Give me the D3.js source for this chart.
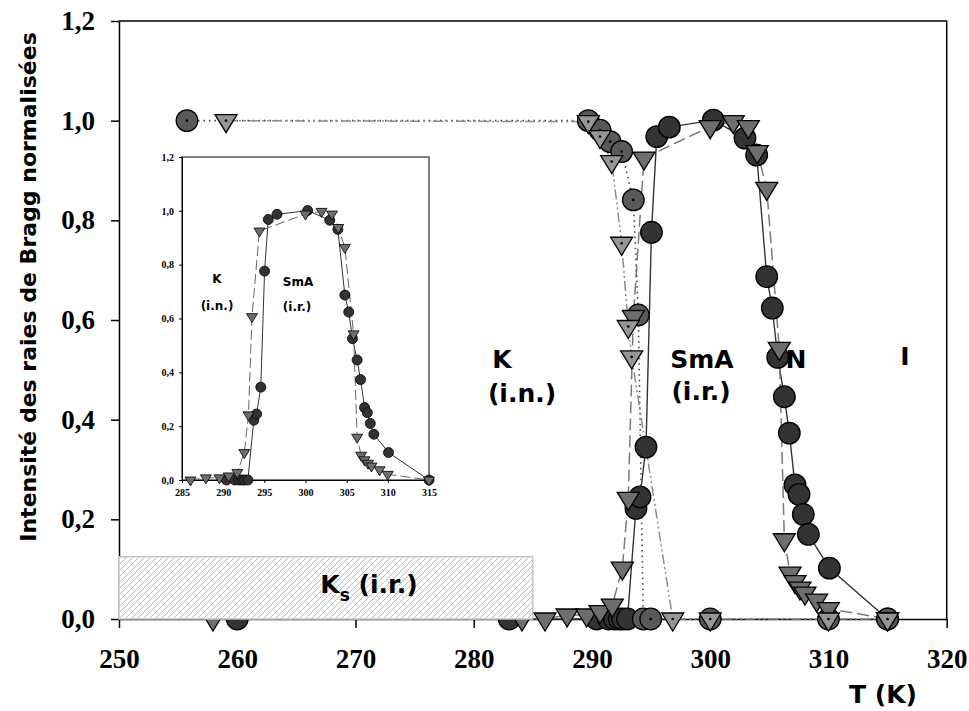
<!DOCTYPE html>
<html><head><meta charset="utf-8">
<script src="https://cdn.jsdelivr.net/npm/d3@7"></script>
<style>html,body{margin:0;padding:0;background:#fff;} svg{display:block;}</style>
</head><body>
<svg id="chart" width="969" height="711"></svg>
<script>
// ---------------- data ----------------
// SmA reflection, heating (dark circles, solid line)
const heatT = [260, 283, 290.4, 291.4, 291.9, 292.3, 292.6, 293.0, 293.72, 294.06, 294.57, 295.03, 295.48, 296.54, 300.26, 302.94, 303.93, 304.78, 305.25, 305.71, 306.27, 306.69, 307.17, 307.51, 307.87, 308.3, 310.08, 315];
const heatI = [0, 0, 0, 0, 0, 0, 0, 0, 0.222, 0.245, 0.345, 0.776, 0.968, 0.987, 1.001, 0.965, 0.931, 0.687, 0.624, 0.525, 0.446, 0.373, 0.269, 0.25, 0.21, 0.17, 0.102, 0];
// SmA reflection, cooling (grey triangles, dashed line)
const coolT = [257.95, 284.08, 286.03, 287.9, 289.55, 290.68, 291.72, 292.57, 293.07, 293.5, 294.4, 300.0, 301.95, 303.22, 303.98, 304.78, 305.84, 306.27, 306.75, 307.17, 307.59, 308.01, 309.0, 309.99, 315];
const coolI = [0, 0, 0, 0.008, 0.008, 0.015, 0.028, 0.102, 0.242, 0.607, 0.925, 0.988, 0.998, 0.988, 0.938, 0.864, 0.543, 0.159, 0.092, 0.075, 0.062, 0.052, 0.038, 0.021, 0];
// crystal reflection (circles with dot, dotted line)
const crysAT = [255.75, 289.69, 290.68, 291.53, 292.51, 293.5, 293.92, 294.34, 294.97, 300.0, 310.0, 315];
const crysAI = [1.0, 1.0, 0.981, 0.958, 0.938, 0.841, 0.61, 0, 0, 0, 0, 0];
// crystal reflection (triangles with dot, dash-dot-dot line)
const crysBT = [259.05, 289.69, 290.68, 291.67, 292.51, 293.07, 293.36, 296.83, 300.0, 310.0, 315];
const crysBI = [1.0, 0.998, 0.968, 0.918, 0.754, 0.587, 0.526, 0, 0, 0, 0];

const xTicks = [250, 260, 270, 280, 290, 300, 310, 320];
const yTicks = [0, 0.2, 0.4, 0.6, 0.8, 1.0, 1.2];
const yTickLabels = ["0,0", "0,2", "0,4", "0,6", "0,8", "1,0", "1,2"];
const insetXTicks = [285, 290, 295, 300, 305, 310, 315];
const ksBand = [250, 285, 0.125];

const zip = (a, b) => a.map((t, i) => ({t, v: b[i]}));
const heat = zip(heatT, heatI), cool = zip(coolT, coolI), crysA = zip(crysAT, crysAI), crysB = zip(crysBT, crysBI);

// ---------------- drawing ----------------
const svg = d3.select("#chart");
const defs = svg.append("defs");
const pat = defs.append("pattern").attr("id", "hatch").attr("patternUnits", "userSpaceOnUse")
  .attr("width", 6).attr("height", 6);
pat.append("rect").attr("width", 6).attr("height", 6).attr("fill", "#fff");
pat.append("path").attr("d", "M-1,1 l2,-2 M0,6 l6,-6 M5,7 l2,-2").attr("stroke", "#bdbdbd").attr("stroke-width", 1);

const x = d3.scaleLinear().domain([250, 320]).range([119, 946.7]);
const y = d3.scaleLinear().domain([0, 1.2]).range([619, 21]);

const serif = "'Liberation Serif','Times New Roman',serif";
const sans = "'DejaVu Sans',Verdana,sans-serif";

const tri = (w, h) => `M${-w/2},${-h/3}L${w/2},${-h/3}L0,${2*h/3}Z`;

// frame
svg.append("path").attr("d", `M${x(250)},${y(1.2)}H${x(320)}V${y(0)}`)
  .attr("fill", "none").attr("stroke", "#000").attr("stroke-width", 1.5);

const gx = svg.append("g").attr("transform", `translate(0,${y(0)})`)
  .call(d3.axisBottom(x).tickValues(xTicks).tickSize(9).tickSizeOuter(0).tickFormat(d3.format("d")));
gx.selectAll("text").attr("y", 49).attr("dy", 0).attr("font-family", serif).attr("font-weight", "bold")
  .attr("font-size", 27).attr("fill", "#000");
const gy = svg.append("g").attr("transform", `translate(${x(250)},0)`)
  .call(d3.axisLeft(y).tickValues(yTicks).tickSize(8).tickSizeOuter(0).tickPadding(16)
    .tickFormat((d, i) => yTickLabels[i]));
gy.selectAll("text").attr("font-family", serif).attr("font-weight", "bold").attr("font-size", 27).attr("fill", "#000");
[gx, gy].forEach(g => { g.selectAll("path,line").attr("stroke", "#000").attr("stroke-width", 1.5); });

function drawSeries(g, xs, ys, data, o) {
  const line = d3.line().x(d => xs(d.t)).y(d => ys(d.v));
  g.append("path").datum(data).attr("d", line).attr("fill", "none")
    .attr("stroke", o.lineColor).attr("stroke-width", o.lw).attr("stroke-dasharray", o.dash || null);
}
function drawMarkers(g, xs, ys, data, o) {
  const m = g.append("g");
  const sel = m.selectAll("g").data(data).join("g")
    .attr("transform", d => `translate(${xs(d.t)},${ys(d.v)})`);
  if (o.shape === "circle") {
    sel.append("circle").attr("r", o.r).attr("fill", o.fill).attr("stroke", "#000").attr("stroke-width", o.sw);
  } else {
    sel.append("path").attr("d", tri(o.w, o.h)).attr("fill", o.fill).attr("stroke", "#000")
      .attr("stroke-width", o.sw).attr("stroke-linejoin", "miter");
  }
  if (o.dot) sel.append("circle").attr("r", 1.3).attr("fill", "#000");
}

const main = svg.append("g");
drawSeries(main, x, y, heat, {lineColor: "#333", lw: 1.4});
drawSeries(main, x, y, cool, {lineColor: "#7a7a7a", lw: 1.5, dash: "12,5"});
drawSeries(main, x, y, crysA, {lineColor: "#444", lw: 1.6, dash: "1.5,4"});
drawSeries(main, x, y, crysB, {lineColor: "#8c8c8c", lw: 1.5, dash: "10,3,2,3,2,3"});
drawMarkers(main, x, y, heat, {shape: "circle", r: 10.8, fill: "#333", sw: 1.3});
drawMarkers(main, x, y, crysA, {shape: "circle", r: 10.8, fill: "#595959", sw: 1.3, dot: true});
drawMarkers(main, x, y, cool, {shape: "tri", w: 22, h: 18, fill: "#6e6e6e", sw: 1.3});
drawMarkers(main, x, y, crysB, {shape: "tri", w: 22, h: 18, fill: "#969696", sw: 1.3, dot: true});

// Ks band
svg.append("rect").attr("x", x(ksBand[0])).attr("y", y(ksBand[2]))
  .attr("width", x(ksBand[1]) - x(ksBand[0])).attr("height", y(0) - y(ksBand[2]))
  .attr("fill", "url(#hatch)").attr("stroke", "#c4c4c4").attr("stroke-width", 1.5);
const ks = svg.append("text").attr("x", 369).attr("y", 593).attr("text-anchor", "middle")
  .attr("font-family", sans).attr("font-weight", "bold").attr("font-size", 25).attr("fill", "#000");
ks.append("tspan").text("K");
ks.append("tspan").attr("font-size", 17).attr("dy", 8).text("s");
ks.append("tspan").attr("dy", -8).text(" (i.r.)");

// phase labels
const lab = (tx, ty, s, fs) => svg.append("text").attr("x", tx).attr("y", ty).attr("text-anchor", "middle")
  .attr("font-family", sans).attr("font-weight", "bold").attr("font-size", fs).attr("fill", "#000").text(s);
lab(502, 368, "K", 25);
lab(522, 402, "(i.n.)", 25);
lab(702, 368, "SmA", 25);
lab(701, 400, "(i.r.)", 25);
lab(796, 368, "N", 25);
lab(905, 365, "I", 25);

// axis titles
lab(883, 703, "T (K)", 25);
svg.append("text").attr("transform", "translate(36,287) rotate(-90)").attr("text-anchor", "middle")
  .attr("font-family", sans).attr("font-weight", "bold").attr("font-size", 22).attr("fill", "#000")
  .text("Intensité des raies de Bragg normalisées");

// ---------------- inset ----------------
const xi = d3.scaleLinear().domain([285, 315]).range([182, 429]);
const yi = d3.scaleLinear().domain([0, 1.2]).range([480, 157]);
const inset = svg.append("g");
inset.append("rect").attr("x", xi(285)).attr("y", yi(1.2)).attr("width", xi(315) - xi(285))
  .attr("height", yi(0) - yi(1.2)).attr("fill", "#fff").attr("stroke", "#000").attr("stroke-width", 1);
const gxi = inset.append("g").attr("transform", `translate(0,${yi(0)})`)
  .call(d3.axisBottom(xi).tickValues(insetXTicks).tickSize(3).tickSizeOuter(0).tickPadding(6).tickFormat(d3.format("d")));
const gyi = inset.append("g").attr("transform", `translate(${xi(285)},0)`)
  .call(d3.axisLeft(yi).tickValues(yTicks).tickSize(3).tickSizeOuter(0).tickPadding(5).tickFormat((d, i) => yTickLabels[i]));
[gxi, gyi].forEach(g => {
  g.selectAll("path,line").attr("stroke", "#000").attr("stroke-width", 1);
  g.selectAll("text").attr("font-family", serif).attr("font-weight", "bold").attr("font-size", 10).attr("fill", "#000");
});
const inRange = d => d.t >= 285 && d.t <= 315;
drawSeries(inset, xi, yi, heat.filter(inRange), {lineColor: "#333", lw: 1});
drawSeries(inset, xi, yi, cool.filter(inRange), {lineColor: "#666", lw: 1, dash: "10,4"});
drawMarkers(inset, xi, yi, heat.filter(inRange), {shape: "circle", r: 5, fill: "#333", sw: 0.8});
drawMarkers(inset, xi, yi, cool.filter(inRange), {shape: "tri", w: 11, h: 9, fill: "#6e6e6e", sw: 0.8});
lab(217, 283, "K", 12);
lab(217, 310, "(i.n.)", 12);
lab(298, 286, "SmA", 12);
lab(297, 311, "(i.r.)", 12);
</script>
</body></html>
